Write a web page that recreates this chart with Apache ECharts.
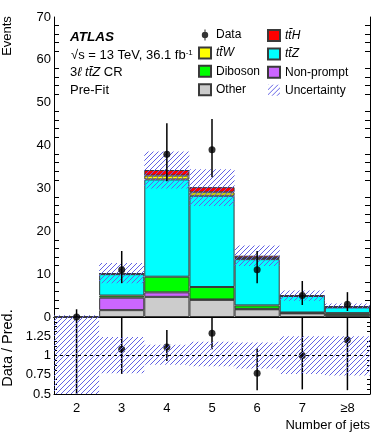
<!DOCTYPE html>
<html>
<head>
<meta charset="utf-8">
<script src="https://cdn.jsdelivr.net/npm/echarts@6/dist/echarts.min.js"></script>
<style>
  html, body { margin: 0; padding: 0; background: #fff; }
  #chart { width: 390px; height: 440px; }
</style>
</head>
<body>
<div id="chart"></div>
<script>
  // bins
  var jets = ['2', '3', '4', '5', '6', '7', '≥8'];

  // stacked backgrounds (bottom -> top)
  var other     = [0, 1.6, 4.7, 4.0, 1.8, 0.85, 0.5];
  var nonPrompt = [0, 2.9, 1.05, 0.1, 0.1, 0.05, 0.05];
  var diboson   = [0, 0.5, 3.65, 2.9, 0.8, 0.15, 0.35];
  var ttZ       = [0, 5.0, 22.7, 21.3, 10.8, 3.85, 1.35];
  var ttW       = [0, 0.1, 0.9, 0.8, 0.25, 0.05, 0.1];
  var ttH       = [0, 0.1, 1.3, 1.2, 0.55, 0.05, 0.15];

  // uncertainty band on total prediction
  var bandLo = [-0.3, 7.9, 30.0, 25.9, 11.9, 3.8, 1.85];
  var bandHi = [0.4, 12.6, 38.6, 34.5, 16.7, 6.2, 3.15];

  // data
  var data   = [0, 11, 38, 39, 11, 5, 3];
  var dataLo = [0, 7.9, 31.7, 32.6, 7.9, 2.8, 1.4];
  var dataHi = [1.8, 15.4, 45.2, 46.2, 15.4, 8.4, 5.8];

  // ratio panel
  var ratio       = [null, 1.08, 1.11, 1.29, 0.77, 1.0, 1.2];
  var ratioLo     = [-1, 0.76, 0.93, 1.08, 0.55, 0.56, 0.55];
  var ratioHi     = [3, 1.7, 1.33, 1.55, 1.09, 1.7, 2.4];
  var ratioBandLo = [0.3, 0.77, 0.88, 0.86, 0.83, 0.76, 0.74];
  var ratioBandHi = [1.7, 1.24, 1.14, 1.18, 1.17, 1.25, 1.25];

  var FONT = 'Liberation Sans, Arial, Helvetica, sans-serif';

  // hatch pattern ///
  var pat = document.createElement('canvas');
  pat.width = 5; pat.height = 5;
  var ctx = pat.getContext('2d');
  ctx.strokeStyle = '#6262e4';
  ctx.lineWidth = 1;
  ctx.beginPath();
  ctx.moveTo(0, 5); ctx.lineTo(5, 0);
  ctx.moveTo(-1, 1); ctx.lineTo(1, -1);
  ctx.moveTo(4, 6); ctx.lineTo(6, 4);
  ctx.stroke();
  var hatch = { image: pat, repeat: 'repeat' };

  var labels = {
    ttH: '{i|tt\u0304H}',
    ttW: '{i|tt\u0304W}',
    ttZ: '{i|tt\u0304Z}'
  };

  function stackSeries(name, values, color) {
    return {
      name: name,
      type: 'bar',
      stack: 'mc',
      xAxisIndex: 0,
      yAxisIndex: 0,
      barWidth: '100%',
      data: values,
      itemStyle: { color: color, borderColor: '#3a3a3a', borderWidth: 1 },
      z: 2
    };
  }

  function bandRender(params, api) {
    var lo = api.coord([api.value(0), api.value(1)]);
    var hi = api.coord([api.value(0), api.value(2)]);
    var w = api.size([1, 0])[0];
    return {
      type: 'rect',
      shape: { x: lo[0] - w / 2, y: hi[1], width: w, height: lo[1] - hi[1] },
      style: { fill: hatch }
    };
  }

  function errRender(params, api) {
    var lo = api.coord([api.value(0), api.value(1)]);
    var hi = api.coord([api.value(0), api.value(2)]);
    return {
      type: 'line',
      shape: { x1: lo[0], y1: lo[1], x2: hi[0], y2: hi[1] },
      style: { stroke: '#000', lineWidth: 1.5 }
    };
  }

  function triples(lo, hi) {
    return jets.map(function (j, i) { return [i, lo[i], hi[i]]; });
  }

  var chart = echarts.init(document.getElementById('chart'));

  var tickStyle = { color: '#000', width: 1 };
  function xAx(grid, pos, showLabel, tickLen) {
    return {
      type: 'category',
      gridIndex: grid,
      position: pos,
      data: jets,
      axisLine: { lineStyle: { color: '#000', width: 1 } },
      axisTick: { inside: true, length: tickLen, lineStyle: tickStyle },
      axisLabel: { show: showLabel, color: '#000', fontSize: 13, fontFamily: FONT, margin: 8 },
      splitLine: { show: false }
    };
  }

  var legendText = {
    fontSize: 12, color: '#000', fontFamily: FONT,
    rich: { i: { fontStyle: 'italic', fontSize: 12, fontFamily: FONT } }
  };

  chart.setOption({
    animation: false,
    backgroundColor: '#fff',
    textStyle: { fontFamily: FONT },
    grid: [
      { left: 54, top: 17, width: 316, height: 300 },
      { left: 54, top: 317, width: 316, height: 77 }
    ],
    xAxis: [
      xAx(0, 'bottom', false, 8),
      xAx(0, 'top', false, 8),
      xAx(1, 'bottom', true, 4),
      xAx(1, 'top', false, 4)
    ],
    yAxis: [
      {
        type: 'value', gridIndex: 0, min: 0, max: 70, interval: 10,
        axisLine: { show: true, lineStyle: { color: '#000' } },
        axisTick: { inside: true, length: 10, lineStyle: tickStyle },
        minorTick: { show: true, splitNumber: 5, length: 5, lineStyle: tickStyle },
        axisLabel: { color: '#000', fontSize: 13, fontFamily: FONT, margin: 3 },
        splitLine: { show: false }
      },
      {
        type: 'value', gridIndex: 0, position: 'right', min: 0, max: 70, interval: 10,
        axisLine: { show: true, lineStyle: { color: '#000' } },
        axisTick: { inside: true, length: 10, lineStyle: tickStyle },
        minorTick: { show: true, splitNumber: 5, length: 5, lineStyle: tickStyle },
        axisLabel: { show: false },
        splitLine: { show: false }
      },
      {
        type: 'value', gridIndex: 1, min: 0.5, max: 1.5, interval: 0.25,
        axisLine: { show: true, lineStyle: { color: '#000' } },
        axisTick: { inside: true, length: 6, lineStyle: tickStyle },
        minorTick: { show: true, splitNumber: 4, length: 3, lineStyle: tickStyle },
        axisLabel: {
          color: '#000', fontSize: 13, fontFamily: FONT, margin: 3,
          formatter: function (v) { return v === 1.5 ? '' : String(v); }
        },
        splitLine: { show: false }
      },
      {
        type: 'value', gridIndex: 1, position: 'right', min: 0.5, max: 1.5, interval: 0.25,
        axisLine: { show: true, lineStyle: { color: '#000' } },
        axisTick: { inside: true, length: 6, lineStyle: tickStyle },
        minorTick: { show: true, splitNumber: 4, length: 3, lineStyle: tickStyle },
        axisLabel: { show: false },
        splitLine: { show: false }
      }
    ],
    legend: [
      {
        left: 198, top: 29, padding: 0, orient: 'vertical',
        itemWidth: 12, itemHeight: 11, itemGap: 5.4, selectedMode: false,
        icon: 'rect',
        textStyle: legendText,
        formatter: function (n) { return labels[n] || n; },
        data: [
          { name: 'Data', icon: 'path://M5.4,0H6.6V12H5.4Z M9.5,6A3.5,3.5,0,1,1,2.5,6A3.5,3.5,0,1,1,9.5,6Z' },
          'ttW', 'Diboson', 'Other'
        ]
      },
      {
        left: 267, top: 29, padding: 0, orient: 'vertical',
        itemWidth: 12, itemHeight: 11, itemGap: 5.4, selectedMode: false,
        icon: 'rect',
        textStyle: legendText,
        formatter: function (n) { return labels[n] || n; },
        data: [
          'ttH', 'ttZ', 'Non-prompt',
          { name: 'Uncertainty', itemStyle: { color: hatch, borderWidth: 0 } }
        ]
      }
    ],
    series: [
      stackSeries('Other', other, '#cccccc'),
      stackSeries('Non-prompt', nonPrompt, '#cc66ff'),
      stackSeries('Diboson', diboson, '#00ff00'),
      stackSeries('ttZ', ttZ, '#00ffff'),
      stackSeries('ttW', ttW, '#ffff00'),
      stackSeries('ttH', ttH, '#ff0000'),
      {
        name: 'Uncertainty', type: 'custom', xAxisIndex: 0, yAxisIndex: 0,
        renderItem: bandRender, data: triples(bandLo, bandHi),
        encode: { x: 0, y: [1, 2] }, clip: true, z: 3,
        itemStyle: { color: hatch }
      },
      {
        name: 'Data err', type: 'custom', xAxisIndex: 0, yAxisIndex: 0,
        renderItem: errRender, data: triples(dataLo, dataHi),
        encode: { x: 0, y: [1, 2] }, z: 4
      },
      {
        name: 'Data', type: 'scatter', xAxisIndex: 0, yAxisIndex: 0,
        data: data, symbol: 'circle', symbolSize: 7, clip: false,
        itemStyle: { color: '#000' }, z: 5
      },
      // ratio panel
      {
        name: 'Ratio err', type: 'custom', xAxisIndex: 2, yAxisIndex: 2,
        renderItem: errRender, data: triples(ratioLo, ratioHi),
        encode: { x: 0, y: [1, 2] }, clip: true, z: 2
      },
      {
        name: 'Ratio', type: 'scatter', xAxisIndex: 2, yAxisIndex: 2,
        data: ratio, symbol: 'circle', symbolSize: 7,
        itemStyle: { color: '#000' }, z: 2,
        markLine: {
          silent: true, symbol: 'none', label: { show: false },
          lineStyle: { color: '#000', width: 1, type: [3, 3] },
          data: [{ yAxis: 1 }]
        }
      },
      {
        name: 'Ratio band', type: 'custom', xAxisIndex: 2, yAxisIndex: 2,
        renderItem: bandRender, data: triples(ratioBandLo, ratioBandHi),
        encode: { x: 0, y: [1, 2] }, clip: true, z: 3
      }
    ],
    graphic: [
      {
        type: 'text', x: 7, y: 36, rotation: Math.PI / 2,
        style: { text: 'Events', font: '13px ' + FONT, fill: '#000', align: 'center', verticalAlign: 'middle' }
      },
      {
        type: 'text', x: 8, y: 348, rotation: Math.PI / 2,
        style: { text: 'Data / Pred.', font: '14.5px ' + FONT, fill: '#000', align: 'center', verticalAlign: 'middle' }
      },
      {
        type: 'text', x: 370, y: 425,
        style: { text: 'Number of jets', font: '13px ' + FONT, fill: '#000', align: 'right', verticalAlign: 'middle' }
      },
      {
        type: 'text', x: 70, y: 37,
        style: { text: 'ATLAS', font: 'italic bold 13.5px ' + FONT, fill: '#000', verticalAlign: 'middle' }
      },
      {
        type: 'text', x: 71, y: 55,
        style: {
          text: '{n|√s = 13 TeV, 36.1 fb}{s|-1}',
          verticalAlign: 'middle',
          rich: {
            n: { fontSize: 13, fontFamily: FONT, fill: '#000', verticalAlign: 'bottom' },
            s: { fontSize: 8, fontFamily: FONT, fill: '#000', verticalAlign: 'top' }
          }
        }
      },
      {
        type: 'text', x: 70, y: 72.5,
        style: {
          text: '{n|3}{i|ℓ tt\u0304Z}{n| CR}',
          verticalAlign: 'middle',
          rich: {
            n: { fontSize: 13, fontFamily: FONT, fill: '#000' },
            i: { fontSize: 13, fontFamily: FONT, fontStyle: 'italic', fill: '#000' }
          }
        }
      },
      {
        type: 'text', x: 70, y: 90,
        style: { text: 'Pre-Fit', font: '13px ' + FONT, fill: '#000', verticalAlign: 'middle' }
      }
    ]
  });
</script>
</body>
</html>
